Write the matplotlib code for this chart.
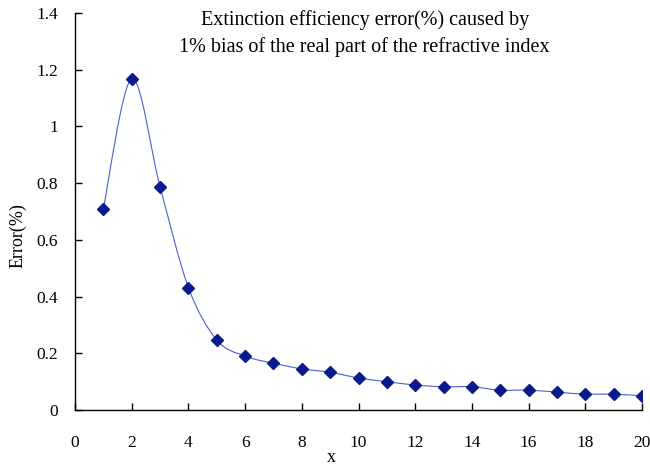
import numpy as np
import matplotlib
matplotlib.use("Agg")
import matplotlib.pyplot as plt
from matplotlib.path import Path
from matplotlib.patches import PathPatch

x_vals = [1, 2, 3, 4, 5, 6, 7, 8, 9, 10, 11, 12, 13, 14, 15, 16, 17, 18, 19, 20]
err_vals = [0.710, 1.168, 0.787, 0.432, 0.247, 0.190, 0.165, 0.145, 0.133, 0.113,
            0.100, 0.088, 0.082, 0.082, 0.070, 0.070, 0.063, 0.056, 0.056, 0.050]
x_ticks = [0, 2, 4, 6, 8, 10, 12, 14, 16, 18, 20]
y_ticks = [0, 0.2, 0.4, 0.6, 0.8, 1.0, 1.2, 1.4]
y_tick_labels = ["0", "0.2", "0.4", "0.6", "0.8", "1", "1.2", "1.4"]
title_lines = ["Extinction efficiency error(%) caused by",
               "1% bias of the real part of the refractive index"]

plt.rcParams['font.family'] = ['Liberation Serif', 'DejaVu Serif']

fig = plt.figure(figsize=(6.5, 4.68), dpi=100)
ax = fig.add_axes([0.1154, 0.1239, 0.8723, 0.8483])

# Smoothed connecting line (Excel-style Bezier smoothing through the points)
px = np.asarray(x_vals, float)
py = np.asarray(err_vals, float)
n = len(px)
verts = [(px[0], py[0])]
codes = [Path.MOVETO]
t = 1.0 / 6.0
for i in range(n - 1):
    p0 = (px[max(i - 1, 0)], py[max(i - 1, 0)])
    p1 = (px[i], py[i])
    p2 = (px[i + 1], py[i + 1])
    p3 = (px[min(i + 2, n - 1)], py[min(i + 2, n - 1)])
    c1 = (p1[0] + (p2[0] - p0[0]) * t, p1[1] + (p2[1] - p0[1]) * t)
    c2 = (p2[0] - (p3[0] - p1[0]) * t, p2[1] - (p3[1] - p1[1]) * t)
    verts += [c1, c2, p2]
    codes += [Path.CURVE4] * 3
ax.add_patch(PathPatch(Path(verts, codes), facecolor='none',
                       edgecolor='#4a5fd0', lw=0.8, zorder=2))

ax.plot(x_vals, err_vals, linestyle='none', marker='D', markersize=6,
        color='#0a1a8c', zorder=3)

ax.set_xlim(0, 20)
ax.set_ylim(0, 1.4)
ax.set_xticks(x_ticks)
ax.set_yticks(y_ticks)
ax.set_yticklabels(y_tick_labels)
ax.tick_params(direction='in', length=5, width=1, labelsize=12.5, colors='black')
ax.tick_params(axis='x', pad=18)
ax.tick_params(axis='y', pad=12)
for s in ['top', 'right']:
    ax.spines[s].set_visible(False)
for s in ['left', 'bottom']:
    ax.spines[s].set_linewidth(1)

ax.set_xlabel('x', fontsize=13)
ax.xaxis.set_label_coords(0.452, -0.097)
ax.set_ylabel('Error(%)', fontsize=13)
ax.yaxis.set_label_coords(-0.085, 0.44)

ax.text(0.511, 0.982, title_lines[0], transform=ax.transAxes, ha='center', va='center', fontsize=14.5)
ax.text(0.511, 0.914, title_lines[1], transform=ax.transAxes, ha='center', va='center', fontsize=14.5)

fig.savefig('out.png', dpi=100)
